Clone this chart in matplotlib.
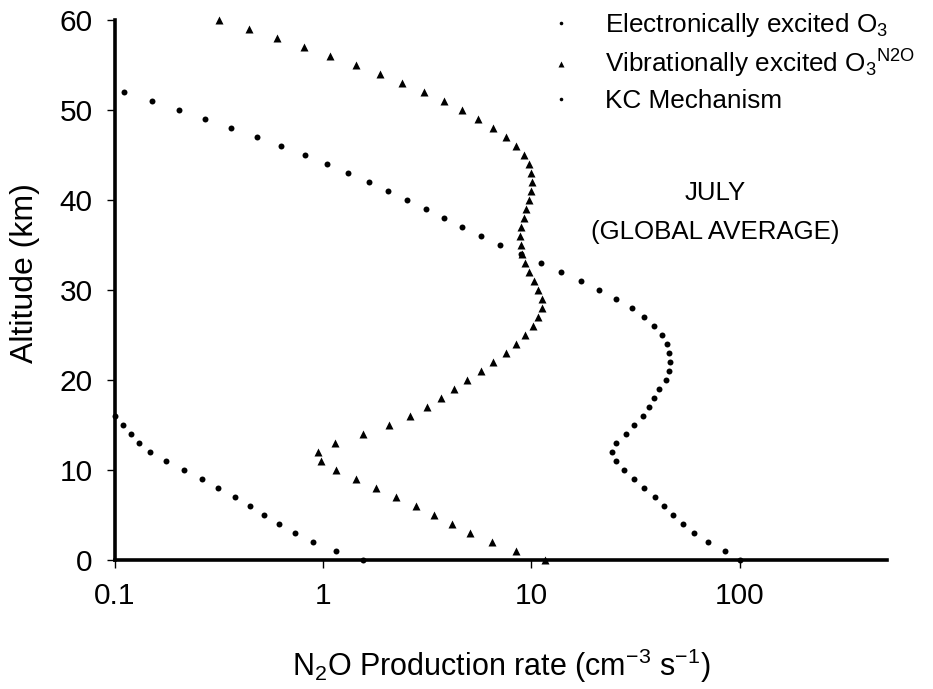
import numpy as np
import matplotlib
matplotlib.use("Agg")
import matplotlib.pyplot as plt

plt.rcParams['font.family'] = ['Liberation Sans', 'DejaVu Sans']
plt.rcParams['mathtext.fontset'] = 'custom'
plt.rcParams['mathtext.rm'] = 'Liberation Sans'
plt.rcParams['mathtext.it'] = 'Liberation Sans'
plt.rcParams['mathtext.default'] = 'regular'

# altitude grids (km)
alt_elec = list(range(0, 17))
alt_vib = list(range(0, 61))
alt_kc = list(range(0, 53))

# N2O production rates (cm-3 s-1)
rate_elec = [1.56, 1.15, 0.894, 0.733, 0.612, 0.520, 0.444, 0.375, 0.313, 0.261,
             0.214, 0.176, 0.148, 0.130, 0.119, 0.1096, 0.100]
rate_vib = [11.6, 8.44, 6.50, 5.09, 4.14, 3.40, 2.79, 2.24, 1.79, 1.43,
            1.15, 0.971, 0.942, 1.14, 1.55, 2.07, 2.62, 3.16, 3.67, 4.27,
            4.92, 5.70, 6.56, 7.52, 8.47, 9.36, 10.2, 10.7, 11.2, 11.2,
            10.8, 10.3, 9.78, 9.36, 9.02, 8.89, 8.86, 8.92, 9.19, 9.46,
            9.78, 10.0, 10.1, 10.0, 9.71, 9.19, 8.41, 7.52, 6.53, 5.56,
            4.62, 3.79, 3.04, 2.40, 1.87, 1.43, 1.08, 0.811, 0.601, 0.438, 0.315]
rate_kc = [100, 84.7, 70.4, 60.5, 53.4, 48.0, 43.2, 39.0, 34.9, 31.1,
           27.9, 25.4, 24.3, 25.5, 28.3, 31.1, 34.2, 36.5, 38.7, 41.2,
           44.1, 45.7, 46.1, 45.9, 44.6, 42.3, 38.7, 34.9, 30.3, 25.5,
           21.1, 17.3, 13.9, 11.1, 8.92, 7.04, 5.75, 4.66, 3.79, 3.10,
           2.52, 2.05, 1.65, 1.32, 1.045, 0.816, 0.628, 0.480, 0.362, 0.272,
           0.202, 0.150, 0.110]

xticks = [0.1, 1, 10, 100]
xticklabels = ['0.1', '1', '10', '100']
yticks = [0, 10, 20, 30, 40, 50, 60]

W, H = 933, 689
fig = plt.figure(figsize=(W / 100, H / 100), dpi=100)
ax = fig.add_axes([115 / W, 1 - 560 / H, (887 - 115) / W, (560 - 20) / H])

ax.plot(rate_elec, alt_elec, 'o', color='black', ms=4.3, mec='none',
        clip_on=False, zorder=5, label='Electronically excited O$_3$')
ax.plot(rate_vib, alt_vib, '^', color='black', ms=6.2, mec='none',
        clip_on=False, zorder=5, label='Vibrationally excited O$_3$$^{\\mathrm{N2O}}$')
ax.plot(rate_kc, alt_kc, 'o', color='black', ms=4.3, mec='none',
        clip_on=False, zorder=5, label='KC Mechanism')

ax.set_xscale('log')
ax.set_xlim(0.1, 510)
ax.set_ylim(0, 60)
ax.set_xticks(xticks)
ax.set_xticklabels(xticklabels)
ax.xaxis.set_minor_locator(matplotlib.ticker.NullLocator())
ax.set_yticks(yticks)

for s in ['top', 'right']:
    ax.spines[s].set_visible(False)
for s in ['left', 'bottom']:
    ax.spines[s].set_linewidth(2.6)
ax.tick_params(axis='both', direction='out', length=6, width=1.0,
               labelsize=21.5, pad=10, color='black')

leg = ax.legend(loc='upper left', bbox_to_anchor=(548 / W, 1 - 11 / H),
                bbox_transform=fig.transFigure, frameon=False, fontsize=18.8,
                handlelength=1.0, handletextpad=1.2, borderpad=0,
                borderaxespad=0, labelspacing=0.35, markerscale=0.6)

ax.text(715 / W, 1 - 193 / H, 'JULY', transform=fig.transFigure,
        ha='center', va='center', fontsize=18.6)
ax.text(715 / W, 1 - 232 / H, '(GLOBAL AVERAGE)', transform=fig.transFigure,
        ha='center', va='center', fontsize=18.6)

fig.text(25 / W, 1 - 273 / H, 'Altitude (km)', rotation=90,
         ha='center', va='center', fontsize=23)
fig.text(501 / W, 1 - 676 / H, 'N$_2$O Production rate (cm$^{-3}$ s$^{-1}$)',
         ha='center', va='baseline', fontsize=22)

fig.savefig('out.png', dpi=100)
